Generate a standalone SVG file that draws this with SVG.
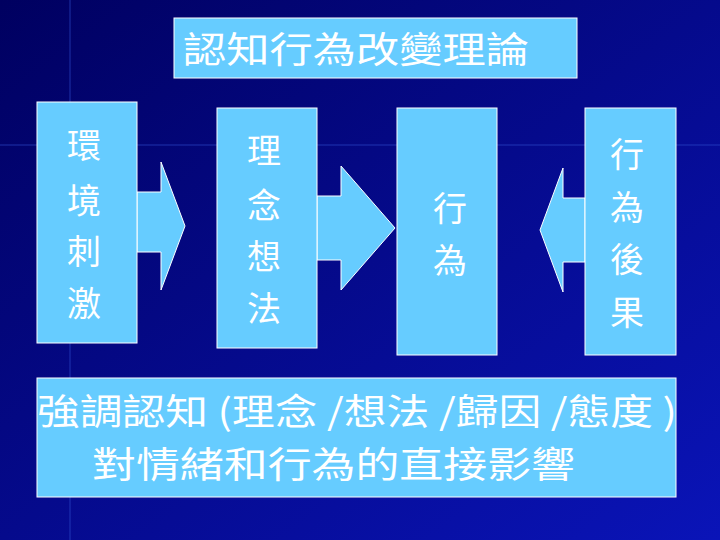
<svg xmlns="http://www.w3.org/2000/svg" width="720" height="540" viewBox="0 0 720 540">
<defs>
<linearGradient id="bg" x1="0" y1="0" x2="1" y2="1"><stop offset="0" stop-color="#000060"/><stop offset="1" stop-color="#0a14b8"/></linearGradient>
<style>
.box{fill:#66ccff;stroke:#ffffff;stroke-width:1}
.arr{fill:#66ccff;stroke:#ffffff;stroke-width:1}
text{fill:#ffffff;font-family:"Noto Sans CJK TC","Liberation Sans",sans-serif;font-size:34px;text-anchor:middle}
</style>
</defs>
<rect width="720" height="540" fill="url(#bg)"/>
<line x1="70" y1="0" x2="70" y2="540" stroke="#3050d0" stroke-width="2" opacity="0.3"/>
<line x1="0" y1="145" x2="720" y2="145" stroke="#3050d0" stroke-width="2" opacity="0.3"/>
<g id="title"><rect class="box" x="174" y="18" width="403" height="60"/><text x="183" y="63" style="text-anchor:start;font-size:36px" textLength="346" lengthAdjust="spacingAndGlyphs">認知行為改變理論</text></g>
<g id="connectors">
<polygon class="arr" points="137,192 161,192 161,162 185,226 161,290 161,252 137,252"/>
<polygon class="arr" points="317,196 341,196 341,166 395,228 341,290 341,260 317,260"/>
<polygon class="arr" points="585,198 563,198 563,168 540,230 563,292 563,262 585,262"/>
</g>
<g id="n1"><rect class="box" x="37" y="102" width="100" height="241"/><text x="84" y="158">環</text><text x="84" y="213">境</text><text x="84" y="264">刺</text><text x="84" y="316">激</text></g>
<g id="n2"><rect class="box" x="217" y="108" width="100" height="240"/><text x="264" y="163">理</text><text x="264" y="218">念</text><text x="264" y="269">想</text><text x="264" y="321">法</text></g>
<g id="n3"><rect class="box" x="397" y="108" width="100" height="247"/><text x="450" y="221">行</text><text x="450" y="273">為</text></g>
<g id="n4"><rect class="box" x="585" y="108" width="91" height="247"/><text x="627" y="167">行</text><text x="627" y="220">為</text><text x="627" y="272">後</text><text x="627" y="325">果</text></g>
<g id="bottom"><rect class="box" x="37" y="378" width="639" height="119"/>
<text x="37" y="425" style="text-anchor:start;font-size:36px" textLength="640" lengthAdjust="spacingAndGlyphs">強調認知 (理念 /想法 /歸因 /態度 )</text>
<text x="92" y="478" style="text-anchor:start;font-size:36px" textLength="483" lengthAdjust="spacingAndGlyphs">對情緒和行為的直接影響</text></g>
</svg>
